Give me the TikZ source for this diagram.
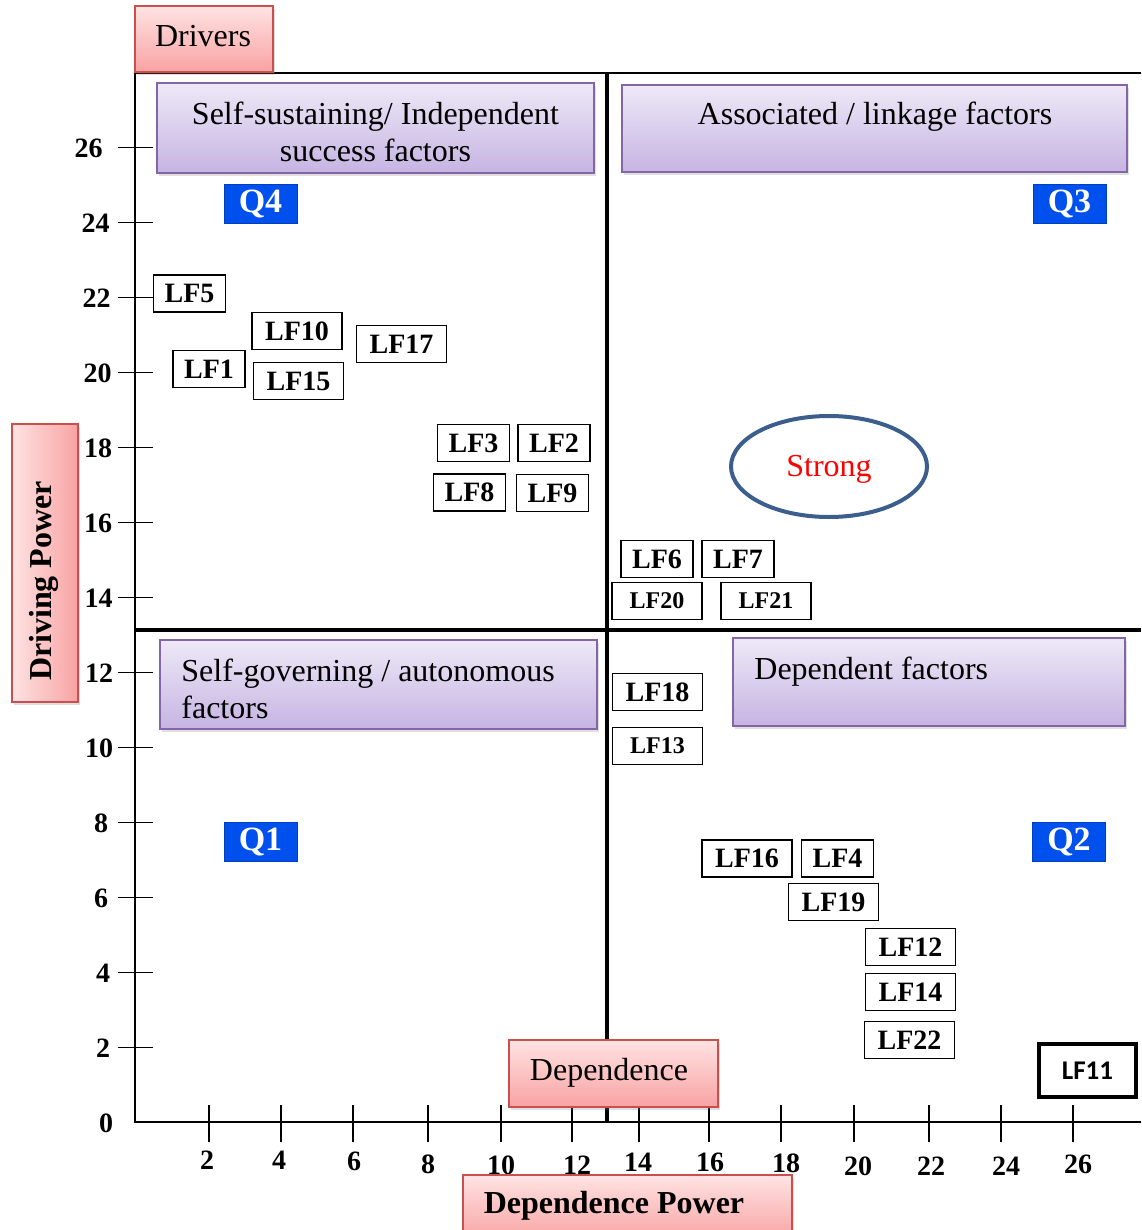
\documentclass[tikz,border=0pt]{standalone}
\usepackage{fontspec}
\setmainfont{Liberation Serif}
\newfontfamily\calibrifont{Carlito}
\usetikzlibrary{shadows,shapes.geometric}

\definecolor{pinkTop}{HTML}{FFE3E3}
\definecolor{pinkBot}{HTML}{F8A2A2}
\definecolor{pinkEdge}{HTML}{C9504F}
\definecolor{lavTop}{HTML}{EEE9F7}
\definecolor{lavBot}{HTML}{C6B4E2}
\definecolor{lavEdge}{HTML}{8465A6}
\definecolor{qblue}{HTML}{0050EE}
\definecolor{ellEdge}{HTML}{3B5E8C}

\tikzset{
  softshadow/.style={drop shadow={opacity=0.25, shadow xshift=1pt, shadow yshift=-1.6pt}},
  pinkbox/.style={draw=pinkEdge, line width=0.8pt, top color=pinkTop, bottom color=pinkBot,
    softshadow, inner sep=0pt, font=\fontsize{16}{18.5}\selectfont},
  pinkside/.style={draw=pinkEdge, line width=0.8pt, left color=pinkTop, right color=pinkBot,
    softshadow, inner sep=0pt},
  purplebox/.style={draw=lavEdge, line width=0.8pt, top color=lavTop, bottom color=lavBot,
    softshadow, inner sep=0pt, font=\fontsize{16}{18.5}\selectfont},
  labeltext/.style={inner sep=0pt, font=\fontsize{16}{18.5}\selectfont},
  boldtitle/.style={inner sep=0pt, font=\bfseries\fontsize{16}{18.5}\selectfont},
  qtag/.style={fill=qblue, draw=qblue!80!black, line width=0.5pt, text=white,
    font=\bfseries\fontsize{17}{20}\selectfont, minimum width=36.5pt, minimum height=19.5pt, inner sep=0pt},
  lfbox/.style={draw, line width=0.7pt, fill=white, font=\bfseries\fontsize{14}{16}\selectfont,
    minimum height=18.5pt, inner sep=0pt},
  lfn/.style={lfbox, minimum width=36pt},
  lfw/.style={lfbox, minimum width=45pt},
  lfs/.style={lfw, font=\bfseries\fontsize{12}{14}\selectfont},
  ticklabel/.style={inner sep=0pt, font=\bfseries\fontsize{14}{16}\selectfont},
  thinaxis/.style={line width=0.9pt},
  thickaxis/.style={line width=1.6pt},
}

\begin{document}
\begin{tikzpicture}[x=0.5pt,y=-0.5pt]
\useasboundingbox (0,0) rectangle (1141,1230);

% frame, axes and quadrant dividers
\draw[thinaxis] (135,73) -- (135,1122) -- (1141,1122);
\draw[line width=1.1pt] (135,73) -- (1141,73);
\draw[thickaxis] (607,73) -- (607,1122);
\draw[thickaxis] (135,630) -- (1141,630);

% vertical axis ticks and values
\foreach \v/\lx in {26/88.5,24/95.5,22/96.5,20/97.5,18/98,16/98,14/98.5,12/99,10/99,8/101,6/101,4/103,2/103,0/106}{
  \pgfmathsetmacro{\ty}{1122.5-37.5*\v}
  \ifnum\v>0 \draw[thinaxis] (118,\ty) -- (153,\ty); \fi
  \node[ticklabel] (yl\v) at (\lx,\ty+1) {\v};
}

% horizontal axis ticks and values
\foreach \v/\tx/\lx/\ly in {2/209/207/1160,4/281/279/1160,6/353/354/1161,8/428/428/1164,10/501/501/1165,12/572/577/1165,
  14/639/638/1162,16/709/710/1162,18/781/786/1163,20/854/858/1166,22/929/931/1166,24/1001/1006/1166,26/1073/1078/1164}{
  \draw[thinaxis] (\tx,1105) -- (\tx,1142);
  \node[ticklabel] (xl\v) at (\lx,\ly) {\v};
}

% axis titles
\node[pinkbox, minimum width=69pt, minimum height=33pt] (drivers) at (204,39) {};
\node[labeltext] (driverstext) at (203,36) {Drivers};
\node[pinkside, minimum width=33pt, minimum height=139pt] (drivingpower) at (45,563) {};
\node[boldtitle, rotate=90] (drivingpowertext) at (44,581) {Driving Power};
\node[pinkbox, minimum width=104.5pt, minimum height=33.5pt] (dependence) at (613.5,1073.5) {};
\node[labeltext] (dependencetext) at (609,1073) {Dependence};
\node[pinkbox, minimum width=164.5pt, minimum height=33pt] (dependencepower) at (627.5,1208) {};
\node[boldtitle] (dependencepowertext) at (614,1206) {Dependence Power};

% quadrant headings
\node[purplebox, minimum width=218.5pt, minimum height=45pt] (indep) at (375.5,128) {};
\node[labeltext, align=center] (indeptext) at (375.5,132) {Self-sustaining/ Independent\\success factors};
\node[purplebox, minimum width=252.5pt, minimum height=43.5pt] (linkage) at (874.5,128.5) {};
\node[labeltext] (linkagetext) at (875,117) {Associated / linkage factors};
\node[purplebox, minimum width=218.5pt, minimum height=44.5pt] (autonomous) at (378.5,684.5) {};
\node[labeltext, anchor=west, align=left] (autonomoustext) at (181,689) {Self-governing / autonomous\\factors};
\node[purplebox, minimum width=196pt, minimum height=44pt] (dependent) at (929,682) {};
\node[labeltext, anchor=west] (dependenttext) at (754,672) {Dependent factors};

% quadrant tags
\node[qtag] (q4) at (260.5,204.5) {Q4};
\node[qtag] (q3) at (1069.5,204.5) {Q3};
\node[qtag] (q1) at (260.5,841.5) {Q1};
\node[qtag] (q2) at (1069,841.5) {Q2};

% strong zone
\node[ellipse, draw=ellEdge, line width=2pt, minimum width=98pt, minimum height=50.5pt, inner sep=0pt] (strong) at (829,466.5) {};
\node[labeltext, text=red] (strongtext) at (829,469) {Strong};

% factors in Q4
\node[lfn] (lf5)  at (189.5,293.5) {LF5};
\node[lfw] (lf10) at (297,331) {LF10};
\node[lfw] (lf17) at (401.5,344) {LF17};
\node[lfn] (lf1)  at (209,369) {LF1};
\node[lfw] (lf15) at (298.5,381) {LF15};
\node[lfn] (lf3)  at (473.5,443) {LF3};
\node[lfn] (lf2)  at (554,443) {LF2};
\node[lfn] (lf8)  at (469.5,492.5) {LF8};
\node[lfn] (lf9)  at (552.5,493) {LF9};

% factors in Q3
\node[lfn] (lf6)  at (657,559) {LF6};
\node[lfn] (lf7)  at (738,559) {LF7};
\node[lfs] (lf20) at (657,601) {LF20};
\node[lfs] (lf21) at (766,601) {LF21};

% factors in Q2
\node[lfw] (lf18) at (657.5,692) {LF18};
\node[lfs] (lf13) at (657.5,746) {LF13};
\node[lfw] (lf16) at (747,858.5) {LF16};
\node[lfn] (lf4)  at (837.5,858.5) {LF4};
\node[lfw] (lf19) at (833.5,902) {LF19};
\node[lfw] (lf12) at (910.5,947) {LF12};
\node[lfw] (lf14) at (910.5,992) {LF14};
\node[lfw] (lf22) at (909.5,1040) {LF22};
\node[draw, line width=1.75pt, fill=white, minimum width=48.5pt, minimum height=26.5pt, inner sep=0pt,
  font=\calibrifont\bfseries\fontsize{13.5}{16}\selectfont] (lf11) at (1087.5,1070.5) {LF11};

\end{tikzpicture}
\end{document}
